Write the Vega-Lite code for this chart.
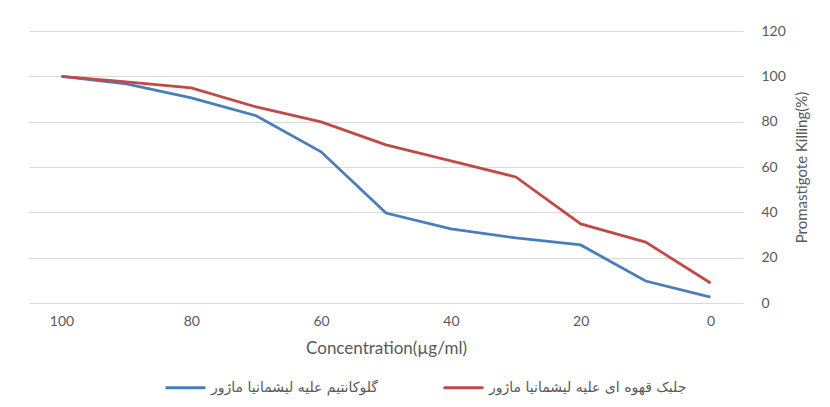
{
  "$schema": "https://vega.github.io/schema/vega-lite/v6.json",
  "width": 714,
  "height": 272,
  "autosize": {"type": "none"},
  "padding": {"left": 29, "top": 31, "right": 87, "bottom": 104},
  "background": "white",
  "config": {
    "view": {"stroke": null},
    "font": "Lato",
    "axis": {"labelColor": "#595959", "titleColor": "#595959", "labelFont": "Lato", "titleFont": "Lato", "titleFontWeight": "normal"}
  },
  "data": {
    "values": [
      {"c": 100, "v": 100, "s": "گلوکانتیم علیه لیشمانیا ماژور"},
      {"c": 90, "v": 96.7, "s": "گلوکانتیم علیه لیشمانیا ماژور"},
      {"c": 80, "v": 90.5, "s": "گلوکانتیم علیه لیشمانیا ماژور"},
      {"c": 70, "v": 82.6, "s": "گلوکانتیم علیه لیشمانیا ماژور"},
      {"c": 60, "v": 66.7, "s": "گلوکانتیم علیه لیشمانیا ماژور"},
      {"c": 50, "v": 39.7, "s": "گلوکانتیم علیه لیشمانیا ماژور"},
      {"c": 40, "v": 32.7, "s": "گلوکانتیم علیه لیشمانیا ماژور"},
      {"c": 30, "v": 28.7, "s": "گلوکانتیم علیه لیشمانیا ماژور"},
      {"c": 20, "v": 25.6, "s": "گلوکانتیم علیه لیشمانیا ماژور"},
      {"c": 10, "v": 9.7, "s": "گلوکانتیم علیه لیشمانیا ماژور"},
      {"c": 0, "v": 2.6, "s": "گلوکانتیم علیه لیشمانیا ماژور"},
      {"c": 100, "v": 100, "s": "جلبک قهوه ای علیه لیشمانیا ماژور"},
      {"c": 90, "v": 97.6, "s": "جلبک قهوه ای علیه لیشمانیا ماژور"},
      {"c": 80, "v": 94.9, "s": "جلبک قهوه ای علیه لیشمانیا ماژور"},
      {"c": 70, "v": 86.5, "s": "جلبک قهوه ای علیه لیشمانیا ماژور"},
      {"c": 60, "v": 79.9, "s": "جلبک قهوه ای علیه لیشمانیا ماژور"},
      {"c": 50, "v": 69.8, "s": "جلبک قهوه ای علیه لیشمانیا ماژور"},
      {"c": 40, "v": 62.7, "s": "جلبک قهوه ای علیه لیشمانیا ماژور"},
      {"c": 30, "v": 55.6, "s": "جلبک قهوه ای علیه لیشمانیا ماژور"},
      {"c": 20, "v": 34.9, "s": "جلبک قهوه ای علیه لیشمانیا ماژور"},
      {"c": 10, "v": 26.9, "s": "جلبک قهوه ای علیه لیشمانیا ماژور"},
      {"c": 0, "v": 8.8, "s": "جلبک قهوه ای علیه لیشمانیا ماژور"}
    ]
  },
  "mark": {"type": "line", "strokeWidth": 2.8},
  "encoding": {
    "x": {
      "field": "c", "type": "quantitative",
      "scale": {"domain": [105, -5], "nice": false, "zero": false},
      "axis": {"values": [100, 80, 60, 40, 20, 0], "grid": false, "domain": false, "ticks": false, "labelFontSize": 14, "labelPadding": 11, "title": "Concentration(µg/ml)", "titleFontSize": 17, "titlePadding": 12}
    },
    "y": {
      "field": "v", "type": "quantitative",
      "scale": {"domain": [0, 120], "nice": false},
      "axis": {"orient": "right", "values": [0, 20, 40, 60, 80, 100, 120], "grid": true, "gridColor": "#d9d9d9", "domain": false, "ticks": false, "labelFontSize": 14, "labelPadding": 18, "title": "Promastigote Killing(%)", "titleFontSize": 15, "titleAngle": -90, "titlePadding": 24}
    },
    "color": {
      "field": "s", "type": "nominal",
      "scale": {"domain": ["گلوکانتیم علیه لیشمانیا ماژور", "جلبک قهوه ای علیه لیشمانیا ماژور"], "range": ["#4a7ebb", "#be4b48"]},
      "legend": {"title": null, "orient": "none", "direction": "horizontal", "legendX": 135, "legendY": 335, "symbolType": "stroke", "symbolSize": 1600, "symbolStrokeWidth": 3, "labelFontSize": 14, "labelColor": "#595959", "labelFont": "DejaVu Sans", "columnPadding": 59, "labelLimit": 400}
    }
  }
}
